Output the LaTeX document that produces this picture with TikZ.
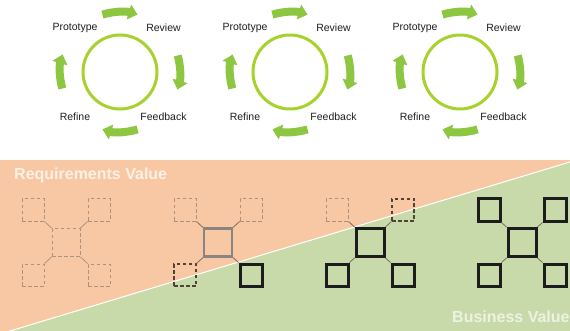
\documentclass[tikz,border=0pt]{standalone}
\usepackage{fontspec}
\setmainfont{Liberation Sans}
\usetikzlibrary{arrows.meta}
\definecolor{ringgreen}{HTML}{A6D22C}
\definecolor{arrowgreen}{HTML}{8DC641}
\definecolor{peach}{HTML}{F8C8A4}
\definecolor{sage}{HTML}{C8DAA9}
\definecolor{faint}{HTML}{AE9280}
\definecolor{darkdash}{HTML}{4F4238}
\definecolor{midgray}{HTML}{8A8580}
\definecolor{boldk}{HTML}{1C1C1C}
\definecolor{linkc}{HTML}{7A6A5A}
\newcommand\mkcluster[8]{%
  \node[big,#3] (#1c) at (#2,-242.5) {};
  \node[small,#4] (#1tl) at (#2-33,-210) {};
  \node[small,#5] (#1tr) at (#2+33,-210) {};
  \node[small,#6] (#1bl) at (#2-33,-275) {};
  \node[small,#7] (#1br) at (#2+33,-275) {};
  \draw[#8] (#1tl.south east) -- (#1c.north west);
  \draw[#8] (#1tr.south west) -- (#1c.north east);
  \draw[#8] (#1bl.north east) -- (#1c.south west);
  \draw[#8] (#1br.north west) -- (#1c.south east);
}
\begin{document}
\begin{tikzpicture}[x=1pt,y=1pt,
  ring/.style={draw=ringgreen, line width=3pt, circle, minimum size=74pt, inner sep=0pt},
  cyc/.style={draw=arrowgreen, line width=8pt, -{Triangle[width=15pt,length=9pt]}},
  lbl/.style={font=\fontsize{10.5}{12}\selectfont, text=black!88, inner sep=0pt},
  big/.style={rectangle, minimum size=28pt, inner sep=0pt},
  small/.style={rectangle, minimum size=22pt, inner sep=0pt},
  faintsq/.style={draw=faint, line width=1pt, dash pattern=on 3.5pt off 2.5pt},
  darksq/.style={draw=darkdash, line width=1.2pt, dash pattern=on 3.5pt off 2.5pt},
  graysq/.style={draw=midgray, line width=2.4pt},
  boldsq/.style={draw=boldk, line width=3pt},
  link/.style={draw=linkc, line width=0.8pt},
  faintlink/.style={draw=faint, line width=0.8pt},
  title/.style={anchor=west, inner sep=0pt, font=\bfseries\fontsize{16}{18}\selectfont}
]
\useasboundingbox (0,0) rectangle (570,-331);
\clip (0,0) rectangle (570,-331);
\fill[white] (0,0) rectangle (570,-331);
% background
\fill[peach] (0,-160) rectangle (570,-331);
\fill[sage] (0,-334) -- (570,-162) -- (570,-331) -- (0,-331) -- cycle;
\draw[white, line width=1pt] (0,-334) -- (570,-162);
% cycles
\foreach \cx/\i in {120/1,290/2,460/3}{
  \node[ring] (ring\i) at (\cx,-72) {};
  \draw[cyc] (ring\i.center) ++(107:60) arc[start angle=107, end angle=73, radius=60];
  \draw[cyc] (ring\i.center) ++(16:60) arc[start angle=16, end angle=-17, radius=60];
  \draw[cyc] (ring\i.center) ++(-73:60) arc[start angle=-73, end angle=-107, radius=60];
  \draw[cyc] (ring\i.center) ++(196:60) arc[start angle=196, end angle=163, radius=60];
  \node[lbl] (proto\i) at (\cx-45,-27.5) {Prototype};
  \node[lbl] (review\i) at (\cx+43.5,-27.5) {Review};
  \node[lbl] (refine\i) at (\cx-45,-117) {Refine};
  \node[lbl] (feed\i) at (\cx+43.5,-117) {Feedback};
}
% clusters
\mkcluster{A}{66}{faintsq}{faintsq}{faintsq}{faintsq}{faintsq}{faintlink}
\mkcluster{B}{218}{graysq}{faintsq}{faintsq}{darksq}{boldsq}{link}
\mkcluster{C}{370}{boldsq}{faintsq}{darksq}{boldsq}{boldsq}{link}
\mkcluster{D}{522}{boldsq}{boldsq}{boldsq}{boldsq}{boldsq}{link}
% titles
\node[title, text=white!72!peach] (req) at (14,-175) {Requirements Value};
\node[title, text=white!68!sage] (bus) at (452,-317) {Business Value};
\end{tikzpicture}
\end{document}
